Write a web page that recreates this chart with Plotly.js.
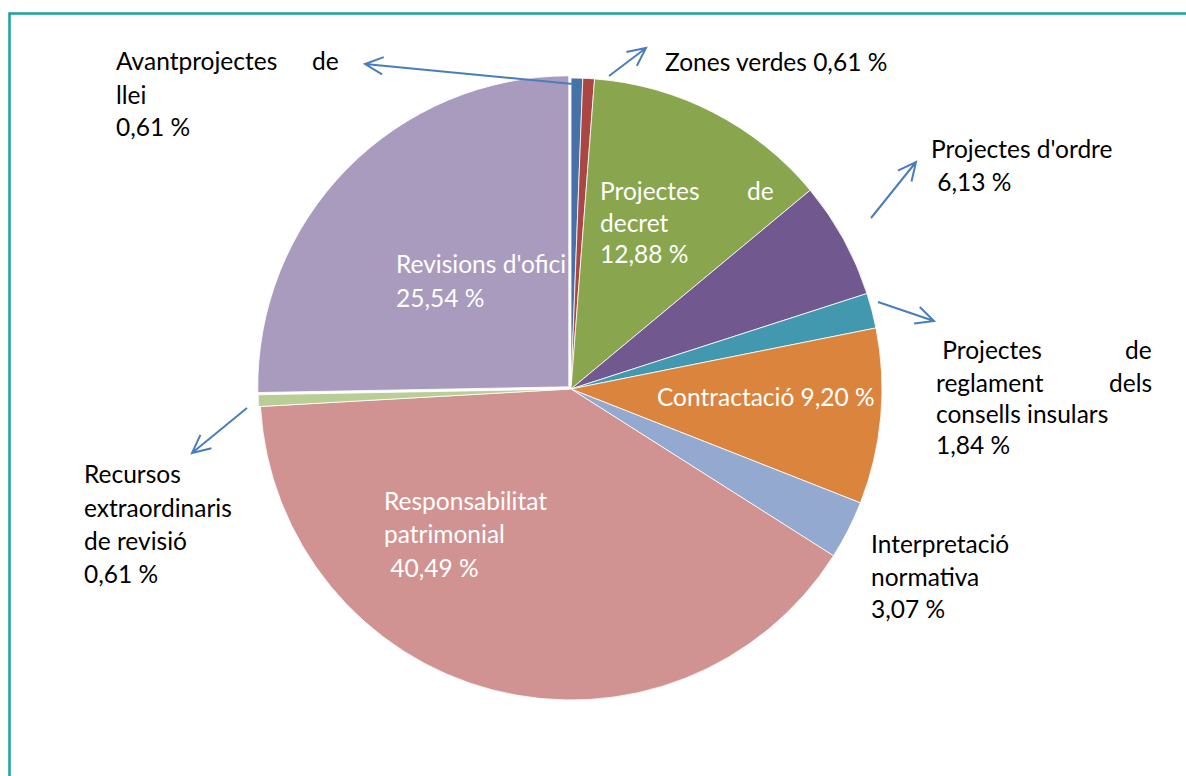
<!DOCTYPE html>
<html>
<head>
<meta charset="utf-8">
<script src="https://cdn.plot.ly/plotly-3.0.1.min.js"></script>
<style>html,body{margin:0;padding:0;background:#fff;}#chart{width:1186px;height:776px;}</style>
</head>
<body>
<div id="chart"></div>
<script>
// ---- data ----
const categories = ["Avantprojectes de llei", "Zones verdes", "Projectes de decret", "Projectes d'ordre",
  "Projectes de reglament dels consells insulars", "Contractació", "Interpretació normativa",
  "Responsabilitat patrimonial", "Recursos extraordinaris de revisió", "Revisions d'ofici"];
const values = [0.61, 0.61, 12.88, 6.13, 1.84, 9.20, 3.07, 40.49, 0.61, 25.54];
const colors = ["#4672A8", "#AA4643", "#89A54E", "#71588F", "#4198AF", "#DB843D", "#93A9CF", "#D19392", "#B9CD96", "#A99BBD"];
const pulls = [0, 0, 0, 0, 0, 0, 0, 0, 0.006, 0.01];

const W = 1186, H = 776;
const pct = i => values[i].toFixed(2).replace('.', ',') + ' %';

// ---- label layout (pixel positions of each text line) ----
// [categoryIndex, text, x, y, anchor, colour]
const labelLines = [
  [0, "Avantprojectes", 114, 61, "left", "#000"],
  [0, "de", 341, 61, "right", "#000"],
  [0, "llei", 114, 94, "left", "#000"],
  [0, "%P", 114, 127, "left", "#000"],
  [1, "Zones verdes %P", 663, 62, "left", "#000"],
  [2, "Projectes", 598, 190, "left", "#fff"],
  [2, "de", 776, 190, "right", "#fff"],
  [2, "decret", 598, 222, "left", "#fff"],
  [2, "%P", 598, 254, "left", "#fff"],
  [3, "Projectes d'ordre", 929, 148, "left", "#000"],
  [3, " %P", 929, 181, "left", "#000"],
  [4, " Projectes", 934, 350, "left", "#000"],
  [4, "de", 1154, 350, "right", "#000"],
  [4, "reglament", 934, 382, "left", "#000"],
  [4, "dels", 1154, 382, "right", "#000"],
  [4, "consells insulars", 934, 413, "left", "#000"],
  [4, "%P", 934, 445, "left", "#000"],
  [5, "Contractació %P", 655, 396, "left", "#fff"],
  [6, "Interpretació", 869, 543, "left", "#000"],
  [6, "normativa", 869, 576, "left", "#000"],
  [6, "%P", 869, 608, "left", "#000"],
  [7, "Responsabilitat", 382, 500, "left", "#fff"],
  [7, "patrimonial", 382, 533, "left", "#fff"],
  [7, " %P", 382, 567, "left", "#fff"],
  [8, "Recursos", 82, 473, "left", "#000"],
  [8, "extraordinaris", 82, 507, "left", "#000"],
  [8, "de revisió", 82, 540, "left", "#000"],
  [8, "%P", 82, 573, "left", "#000"],
  [9, "Revisions d'ofici", 394, 263, "left", "#fff"],
  [9, "%P", 394, 297, "left", "#fff"]
];

// arrows: [tailX, tailY, headX, headY]
const arrows = [
  [573, 84, 365, 64],
  [609, 76, 646, 48],
  [871, 218, 916, 162],
  [878, 302, 934, 321],
  [247, 408, 192, 453]
];

const px = (x) => x / W;
const py = (y) => 1 - y / H;

const cx = 571, cy = 389, R = 311;
const maxPull = Math.max(...pulls);
const half = R * (1 + maxPull);

const trace = {
  type: 'pie',
  labels: categories,
  values: values,
  sort: false,
  direction: 'clockwise',
  rotation: 0,
  pull: pulls,
  marker: {colors: colors, line: {color: '#ffffff', width: 0.8}},
  textinfo: 'none',
  hoverinfo: 'label+percent',
  showlegend: false,
  domain: {x: [px(cx - half), px(cx + half)], y: [py(cy + half), py(cy - half)]}
};

const FONT = 'Lato, "Open Sans", sans-serif';
const annotations = labelLines.map(l => ({
  xref: 'paper', yref: 'paper',
  x: px(l[2]), y: py(l[3]),
  xanchor: l[4], yanchor: 'middle',
  text: l[1].replace('%P', pct(l[0])),
  showarrow: false,
  font: {family: FONT, size: 24.5, color: l[5]}
}));

const shapes = [];
// frame
shapes.push({type: 'rect', xref: 'paper', yref: 'paper', x0: px(9.5), x1: px(1196), y0: py(13.5), y1: py(790),
  line: {color: '#17A29E', width: 2.5}, fillcolor: 'rgba(0,0,0,0)', layer: 'above'});
arrows.forEach(a => {
  const [tx, ty, hx, hy] = a;
  const ang = Math.atan2(ty - hy, tx - hx);
  const L = 20, spread = 0.45;
  const b1x = hx + L * Math.cos(ang + spread), b1y = hy + L * Math.sin(ang + spread);
  const b2x = hx + L * Math.cos(ang - spread), b2y = hy + L * Math.sin(ang - spread);
  shapes.push({type: 'path', xref: 'paper', yref: 'paper', layer: 'above',
    path: `M ${px(tx)} ${py(ty)} L ${px(hx)} ${py(hy)} M ${px(b1x)} ${py(b1y)} L ${px(hx)} ${py(hy)} L ${px(b2x)} ${py(b2y)}`,
    line: {color: '#4A7EBB', width: 2}});
});

const layout = {
  width: W, height: H,
  margin: {l: 0, r: 0, t: 0, b: 0},
  paper_bgcolor: '#ffffff',
  plot_bgcolor: '#ffffff',
  annotations: annotations,
  shapes: shapes,
  font: {family: FONT}
};

Plotly.newPlot('chart', [trace], layout, {displayModeBar: false, staticPlot: true});
</script>
</body>
</html>
